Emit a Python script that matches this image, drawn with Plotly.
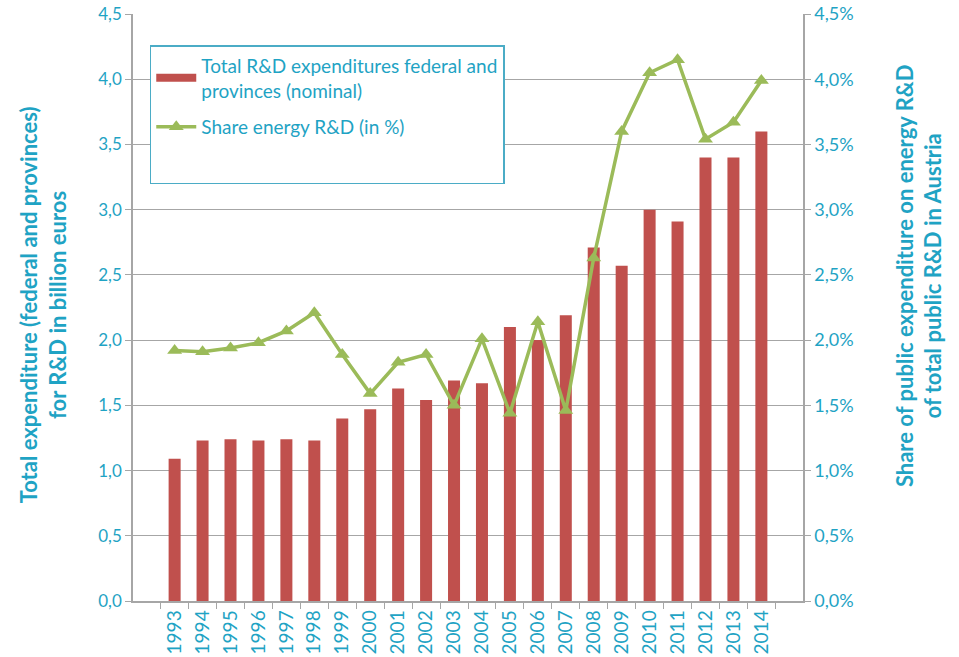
import plotly.graph_objects as go

years = [str(y) for y in range(1993, 2015)]
total_rd = [1.09, 1.23, 1.24, 1.23, 1.24, 1.23, 1.40, 1.47, 1.63, 1.54, 1.69, 1.67,
            2.10, 2.00, 2.19, 2.71, 2.57, 3.00, 2.91, 3.40, 3.40, 3.60]
share_energy = [1.92, 1.91, 1.94, 1.98, 2.07, 2.21, 1.89, 1.59, 1.83, 1.89, 1.50, 2.01,
                1.44, 2.14, 1.46, 2.63, 3.60, 4.05, 4.15, 3.54, 3.67, 3.99]
left_ticks = [0, 0.5, 1.0, 1.5, 2.0, 2.5, 3.0, 3.5, 4.0, 4.5]
left_labels = ["0,0", "0,5", "1,0", "1,5", "2,0", "2,5", "3,0", "3,5", "4,0", "4,5"]
right_labels = ["0,0%", "0,5%", "1,0%", "1,5%", "2,0%", "2,5%", "3,0%", "3,5%", "4,0%", "4,5%"]

teal = "#1FA3C4"
bar_color = "#C0504D"
line_color = "#9BBB59"
font_family = "Lato, 'Open Sans', sans-serif"

fig = go.Figure()
fig.add_trace(go.Bar(
    x=years, y=total_rd, showlegend=False,
    marker=dict(color=bar_color, line=dict(width=0)), width=0.43, yaxis="y"))
fig.add_trace(go.Scatter(
    x=years, y=share_energy, showlegend=False, mode="lines+markers",
    line=dict(color=line_color, width=3.5),
    marker=dict(symbol="triangle-up", size=13, color=line_color), yaxis="y2"))
# legend entries
fig.add_trace(go.Scatter(
    x=[None], y=[None], mode="lines", legendgroup="a",
    name="Total R&D expenditures federal and<br>provinces (nominal)",
    line=dict(color=bar_color, width=8)))
fig.add_trace(go.Scatter(
    x=[None], y=[None], mode="lines+markers", name="Share energy R&D (in %)",
    legendgroup="b", line=dict(color=line_color, width=3.5),
    marker=dict(symbol="triangle-up", size=13, color=line_color)))
fig.add_trace(go.Scatter(
    x=[None], y=[None], mode="lines", name=" ", legendgroup="c",
    line=dict(width=0, color="white")))

tick_common = dict(ticks="outside", ticklen=6, tickcolor="#A6A6A6", automargin=False,
                   showline=True, linecolor="#A6A6A6", linewidth=1.5,
                   ticklabeloverflow="allow")

fig.update_layout(
    width=959, height=657,
    margin=dict(l=133, r=156, t=14, b=56, autoexpand=False),
    paper_bgcolor="white", plot_bgcolor="white",
    font=dict(family=font_family, color=teal, size=17),
    showlegend=True,
    legend=dict(x=0.025, y=0.947, xanchor="left", yanchor="top",
                bordercolor="#4BACC6", borderwidth=1.5, bgcolor="white",
                font=dict(size=19, color=teal), tracegroupgap=9,
                itemwidth=40),
    xaxis=dict(type="category", tickangle=-90, tickson="boundaries",
               showgrid=False, tickfont=dict(size=19, color=teal), **tick_common),
    yaxis=dict(range=[0, 4.5], tickvals=left_ticks, ticktext=left_labels,
               showgrid=True, gridcolor="#A6A6A6", gridwidth=1,
               tickfont=dict(size=17, color=teal), zeroline=False, **tick_common),
    yaxis2=dict(range=[0, 4.5], tickvals=left_ticks, ticktext=right_labels,
                overlaying="y", side="right",
                showgrid=False, zeroline=False,
                tickfont=dict(size=18, color=teal), **tick_common),
    annotations=[
        dict(text="Total expenditure (federal and provinces)<br>for R&D in billion euros",
             x=-0.134, y=0.504, xref="paper", yref="paper", textangle=-90,
             xanchor="center", yanchor="middle",
             showarrow=False, font=dict(size=22, color=teal, weight="bold")),
        dict(text="Share of public expenditure on energy R&D<br>of total public R&D in Austria",
             x=1.173, y=0.555, xref="paper", yref="paper", textangle=-90,
             xanchor="center", yanchor="middle",
             showarrow=False, font=dict(size=22, color=teal, weight="bold")),
    ],
)

fig.write_html("out.html", config={"displayModeBar": False},
               post_script="document.body.style.margin='0';document.body.style.overflow='hidden';")
